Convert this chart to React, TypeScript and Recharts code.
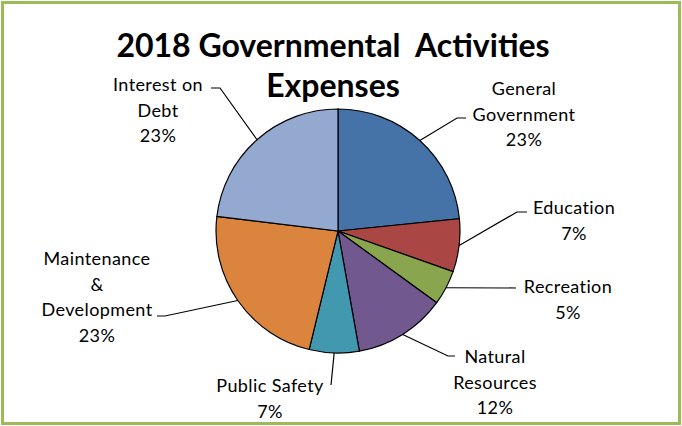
import { PieChart, Pie, Cell } from 'recharts';

const titleLines = ['2018 Governmental  Activities', 'Expenses'];
const categories = [
  'General Government',
  'Education',
  'Recreation',
  'Natural Resources',
  'Public Safety',
  'Maintenance & Development',
  'Interest on Debt',
];
const shares = [23.4, 7.0, 4.6, 12.2, 6.6, 23.1, 23.1];
const labelLines = [
  ['General', 'Government'],
  ['Education'],
  ['Recreation'],
  ['Natural', 'Resources'],
  ['Public Safety'],
  ['Maintenance', '&', 'Development'],
  ['Interest on', 'Debt'],
];
const colors = ['#4572A7', '#AA4643', '#89A54E', '#71588F', '#4198AF', '#DB843D', '#93A9CF'];

// where each label sits and where its leader line bends
const labelLayout = [
  { x: 524, y: 88, bend: [457, 118], end: [466, 118] },
  { x: 574, y: 207, bend: [517, 212], end: [527, 212] },
  { x: 568, y: 286, bend: null, end: [516, 288] },
  { x: 495, y: 356, bend: [448, 356], end: [455, 356] },
  { x: 270, y: 385, bend: null, end: [331, 385] },
  { x: 97, y: 258, bend: [165, 316], end: [157, 316] },
  { x: 158, y: 84, bend: [220, 88], end: [211, 88] },
];

const data = categories.map((name, i) => ({ name, value: shares[i] }));
const RAD = Math.PI / 180;
const FONT = 'Lato, "Noto Sans", sans-serif';

const renderLabel = (props: any) => {
  const { cx, cy, midAngle, outerRadius, percent, index } = props;
  const sx = cx + outerRadius * Math.cos(-midAngle * RAD);
  const sy = cy + outerRadius * Math.sin(-midAngle * RAD);
  const lay = labelLayout[index];
  const pts = [[sx, sy]];
  if (lay.bend) pts.push(lay.bend);
  pts.push(lay.end);
  const lines = [...labelLines[index], `${Math.round(percent * 100)}%`];
  return (
    <g key={`lbl-${index}`}>
      <polyline
        points={pts.map((p) => p.join(',')).join(' ')}
        fill="none"
        stroke="#000"
        strokeWidth={1.2}
      />
      {lines.map((t, k) => (
        <text
          key={k}
          x={lay.x}
          y={lay.y + k * 25.5}
          textAnchor="middle"
          dominantBaseline="central"
          fontFamily={FONT}
          fontSize={18}
          letterSpacing={0.4}
          fill="#000"
        >
          {t}
        </text>
      ))}
    </g>
  );
};

export default function App() {
  return (
    <div
      style={{
        position: 'absolute',
        left: 0,
        top: 0,
        width: 682,
        height: 426,
        background: '#fff',
      }}
    >
      <div
        style={{
          position: 'absolute',
          left: 1,
          top: 1,
          width: 674,
          height: 418,
          border: '3px solid #9BBB59',
        }}
      />
      {titleLines.map((t, i) => (
        <div
          key={t}
          style={{
            position: 'absolute',
            left: 333,
            top: 45 + i * 40,
            transform: 'translate(-50%, -50%)',
            fontFamily: FONT,
            fontWeight: 'bold',
            fontSize: 32,
            lineHeight: '34px',
            color: '#000',
            whiteSpace: 'pre',
          }}
        >
          {t}
        </div>
      ))}
      <div style={{ position: 'absolute', left: 0, top: 0 }}>
        <PieChart width={682} height={426} margin={{ top: 0, right: 0, bottom: 0, left: 0 }}>
          <Pie
            data={data}
            dataKey="value"
            nameKey="name"
            cx={338}
            cy={231}
            outerRadius={122}
            startAngle={90}
            endAngle={-270}
            stroke="#000"
            strokeWidth={1.2}
            label={renderLabel}
            labelLine={false}
            isAnimationActive={false}
          >
            {data.map((d, i) => (
              <Cell key={d.name} fill={colors[i]} />
            ))}
          </Pie>
        </PieChart>
      </div>
    </div>
  );
}
